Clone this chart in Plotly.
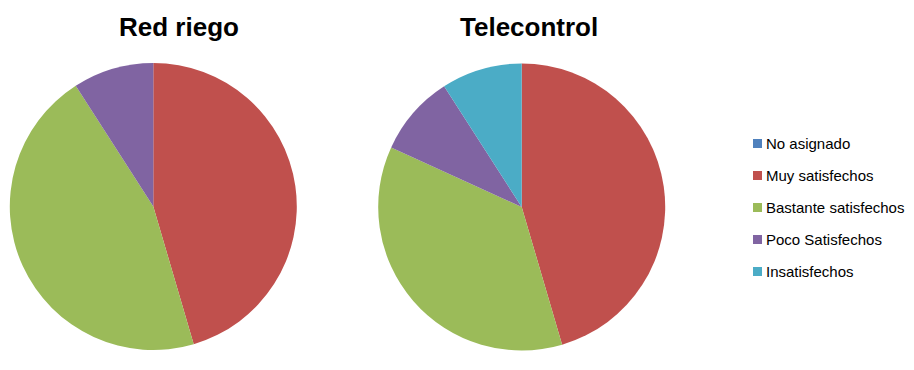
import plotly.graph_objects as go

# Survey categories and colours
categories = ["No asignado", "Muy satisfechos", "Bastante satisfechos",
              "Poco Satisfechos", "Insatisfechos"]
colors = ["#4F81BD", "#C0504D", "#9BBB59", "#8064A2", "#4BACC6"]

# Responses per category for each service
red_riego = [0, 5, 5, 1, 0]
telecontrol = [0, 5, 4, 1, 1]

titles = ["Red riego", "Telecontrol"]

W, H = 914, 370

fig = go.Figure()

pie_common = dict(
    labels=categories,
    marker=dict(colors=colors, line=dict(width=0)),
    sort=False,
    direction="clockwise",
    rotation=0,
    textinfo="none",
    hoverinfo="label+value+percent",
    showlegend=False,
)

fig.add_trace(go.Pie(values=red_riego,
                     domain=dict(x=[9.8 / W, 296.8 / W], y=[20 / H, 307 / H]),
                     **pie_common))
fig.add_trace(go.Pie(values=telecontrol,
                     domain=dict(x=[378.2 / W, 665.2 / W], y=[19.5 / H, 306.5 / H]),
                     **pie_common))

# Chart titles
for title, cx in zip(titles, [179, 529]):
    fig.add_annotation(x=cx / W, y=1 - 27 / H, xref="paper", yref="paper",
                       text=f"<b>{title}</b>", showarrow=False,
                       xanchor="center", yanchor="middle",
                       font=dict(family="Liberation Sans", size=26, color="#000000"))

# Legend: colour swatch plus label for each category
for i, (cat, col) in enumerate(zip(categories, colors)):
    yc = 143.5 + 32 * i
    fig.add_shape(type="rect", xref="paper", yref="paper",
                  x0=753 / W, x1=762 / W, y0=1 - (yc + 4.5) / H, y1=1 - (yc - 4.5) / H,
                  fillcolor=col, line=dict(width=0))
    fig.add_annotation(x=764 / W, y=1 - yc / H, xref="paper", yref="paper",
                       text=cat, showarrow=False, xanchor="left", yanchor="middle",
                       font=dict(family="Liberation Sans", size=15, color="#000000"))

fig.update_layout(
    width=W, height=H,
    margin=dict(l=0, r=0, t=0, b=0),
    paper_bgcolor="white",
    plot_bgcolor="white",
)

fig.write_html("out.html")
